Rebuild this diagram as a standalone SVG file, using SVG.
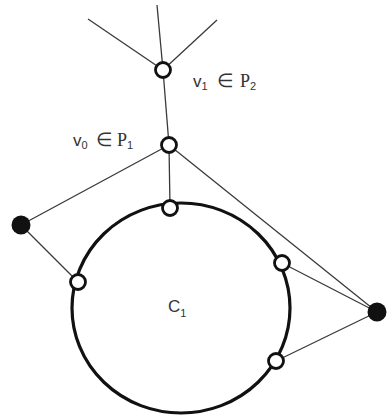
<svg xmlns="http://www.w3.org/2000/svg" width="388" height="417" viewBox="0 0 388 417">
<style>
.edge{stroke:#3a3a3a;stroke-width:1.3;fill:none}
.cyc{stroke:#111;stroke-width:3.2;fill:none}
.hollow{fill:#fff;stroke:#111;stroke-width:2.8}
.solid{fill:#111;stroke:none}
.lbl{font-family:"Liberation Sans","DejaVu Sans",sans-serif;fill:#333;font-size:17px}
.sub{font-size:11px}
.el{font-family:"DejaVu Sans",sans-serif;font-size:19px}
.pp{font-family:"Liberation Serif",serif;font-size:18px}
</style>
<rect width="388" height="417" fill="#fff"/>
<g id="connectors">
<line class="edge" x1="88" y1="19" x2="163" y2="70"/>
<line class="edge" x1="157" y1="5" x2="163" y2="70"/>
<line class="edge" x1="217" y1="20" x2="163" y2="70"/>
<line class="edge" x1="163" y1="70" x2="169" y2="145"/>
<line class="edge" x1="169" y1="145" x2="21" y2="225"/>
<line class="edge" x1="169" y1="145" x2="170" y2="208"/>
<line class="edge" x1="169" y1="145" x2="377" y2="312"/>
<line class="edge" x1="21" y1="225" x2="78" y2="282"/>
<line class="edge" x1="282" y1="263" x2="377" y2="312"/>
<line class="edge" x1="276" y1="361" x2="377" y2="312"/>
</g>
<g id="C1">
<ellipse class="cyc" cx="181" cy="308" rx="109" ry="105"/>
<text class="lbl" x="168" y="312" font-size="18">C<tspan class="sub" dy="5">1</tspan></text>
</g>
<g id="v1">
<circle class="hollow" cx="163" cy="70" r="7.5"/>
<text class="lbl" x="193" y="87">v<tspan class="sub" dy="3">1</tspan><tspan class="el" x="217" dy="-3">∈</tspan><tspan class="pp" x="240">P</tspan><tspan class="sub" dy="3">2</tspan></text>
</g>
<g id="v0">
<circle class="hollow" cx="169" cy="145" r="7.5"/>
<text class="lbl" x="73" y="146">v<tspan class="sub" dy="3">0</tspan><tspan class="el" x="96" dy="-3">∈</tspan><tspan class="pp" x="117">P</tspan><tspan class="sub" dy="3">1</tspan></text>
</g>
<g id="n_top"><circle class="hollow" cx="170" cy="208" r="7.5"/></g>
<g id="n_left"><circle class="hollow" cx="78" cy="282" r="7.5"/></g>
<g id="n_right"><circle class="hollow" cx="282" cy="263" r="7.5"/></g>
<g id="n_bottom"><circle class="hollow" cx="276" cy="361" r="7.5"/></g>
<g id="x_left"><circle class="solid" cx="21" cy="225" r="9.5"/></g>
<g id="x_right"><circle class="solid" cx="377" cy="312" r="9.5"/></g>
</svg>
